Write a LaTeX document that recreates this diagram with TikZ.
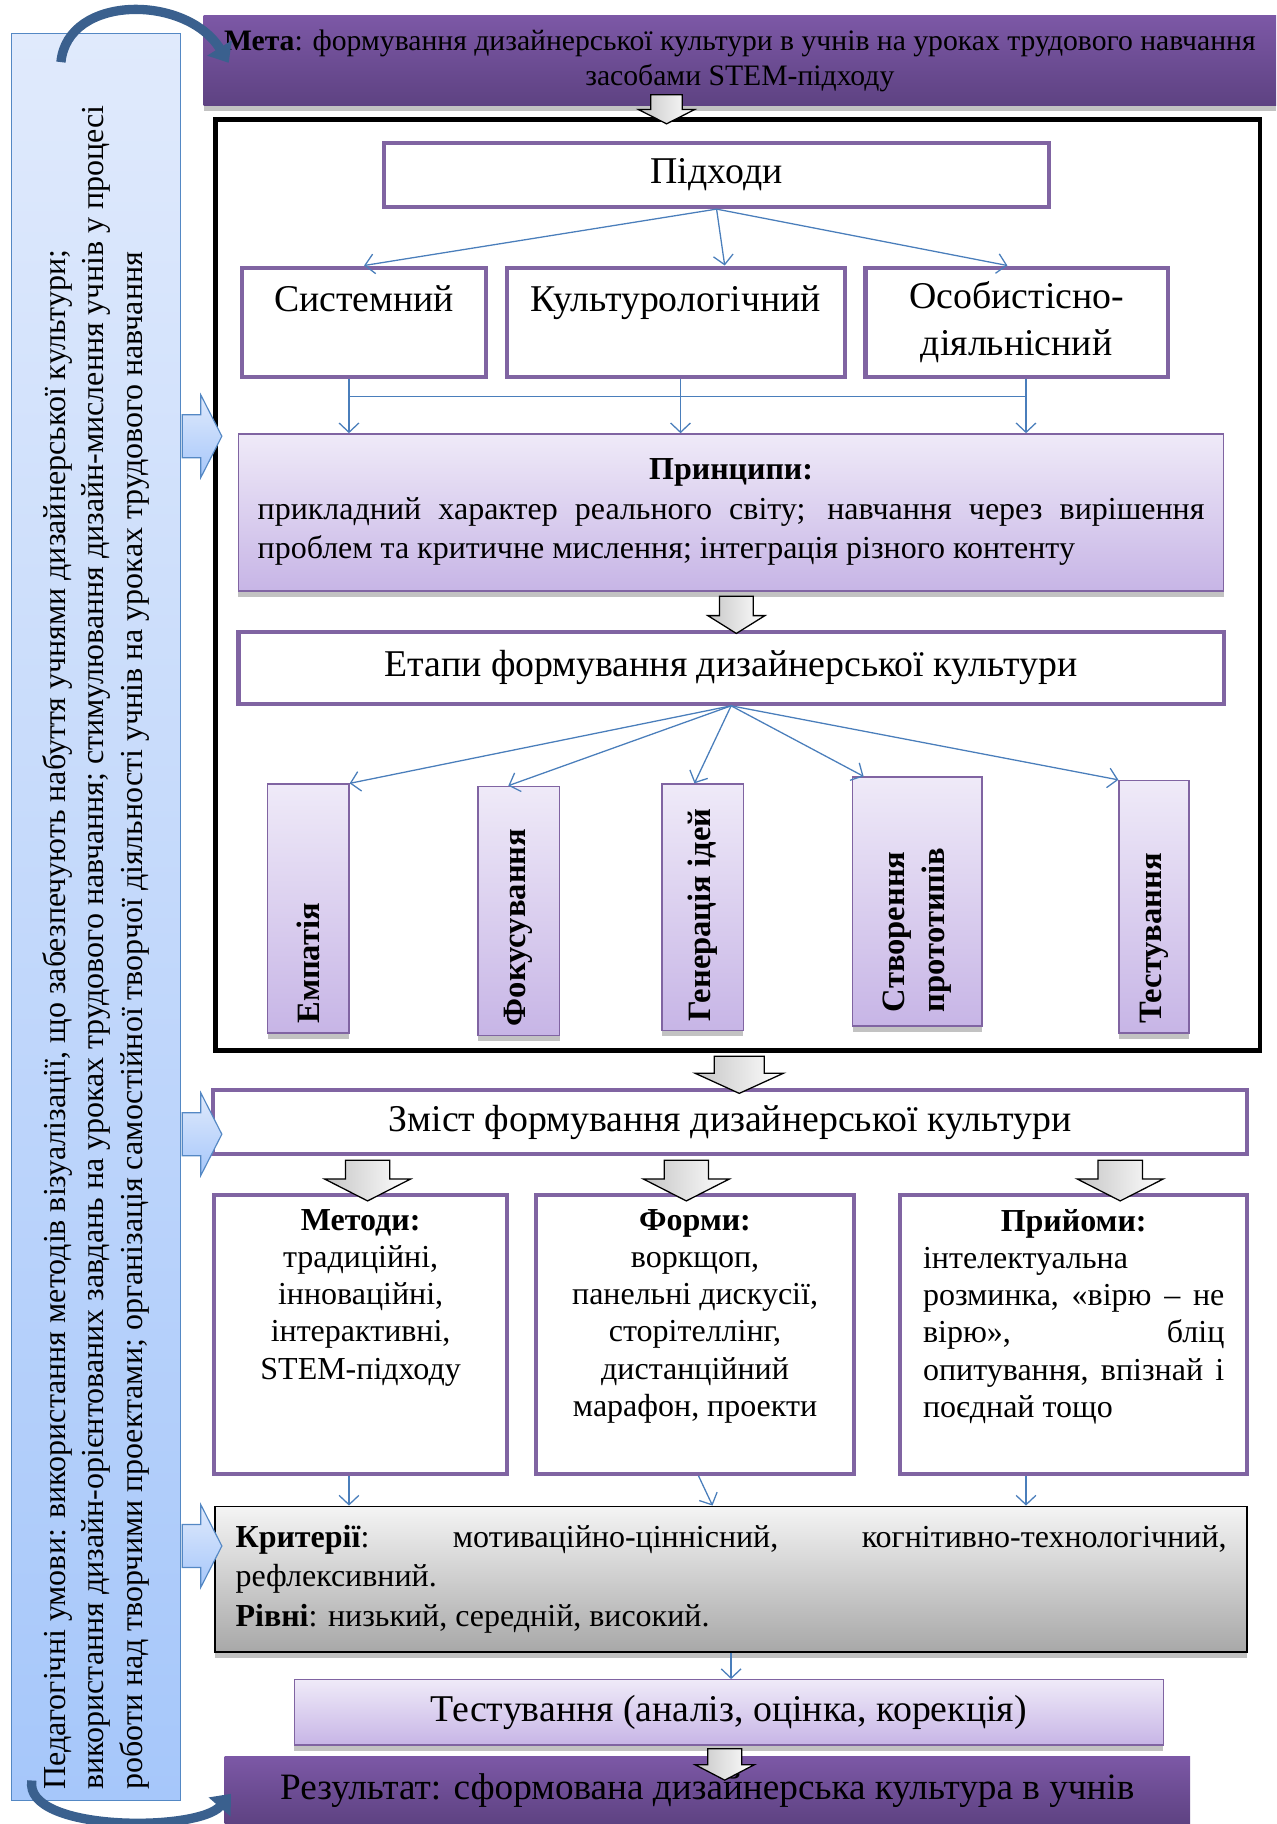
\documentclass[tikz,border=0pt]{standalone}
\usepackage{fontspec}
\setmainfont{Liberation Serif}
\usepackage{tikz}
\usetikzlibrary{shapes,arrows,arrows.meta,positioning,calc,shadows}

\definecolor{boxpurple}{RGB}{128,100,162}
\definecolor{metatop}{RGB}{124,88,166}
\definecolor{metabot}{RGB}{94,66,130}
\definecolor{lavtop}{RGB}{239,234,248}
\definecolor{lavbot}{RGB}{199,181,230}
\definecolor{condtop}{RGB}{224,234,252}
\definecolor{condbot}{RGB}{166,199,250}
\definecolor{condline}{RGB}{84,136,196}
\definecolor{linkblue}{RGB}{74,126,187}
\definecolor{curveblue}{RGB}{58,96,142}
\definecolor{crittop}{RGB}{244,244,244}
\definecolor{critbot}{RGB}{168,168,168}

\newcommand{\vlabel}[2]{\rotatebox{90}{\parbox{#1}{\raggedright #2}}}
\newcommand{\topbox}[3]{\parbox[t][#2][t]{#1}{#3}}

\begin{document}
\begin{tikzpicture}[x=1pt, y=-1pt, thick,
        box/.style={draw=boxpurple, line width=3.5pt, fill=white, inner sep=0pt, align=center},
        shadowed/.style={drop shadow={shadow xshift=0pt, shadow yshift=-5pt, fill=black!40, opacity=.6}},
        lavbox/.style={draw=boxpurple, line width=1.2pt, top color=lavtop, bottom color=lavbot, inner sep=0pt, shadowed},
        purplebox/.style={top color=metatop, bottom color=metabot, inner sep=0pt, align=center, shadowed},
        conn/.style={draw=linkblue, line width=1.1pt, -{Straight Barb[length=8pt, width=17pt]}},
        blockarrow/.style={single arrow, draw=black, line width=1.1pt, inner xsep=0pt, rotate=-90,
            left color=gray!45, right color=white},
        sidearrow/.style={single arrow, draw=condline, line width=1pt, inner xsep=0pt, inner ysep=18pt,
            top color=condtop, bottom color=condbot, minimum height=34pt, minimum width=70pt,
            single arrow head extend=17pt, single arrow tip angle=126},
        curvearrow/.style={draw=curveblue, line width=8pt, -{Triangle[length=15pt, width=24pt]}},
        stage/.style={lavbox, font=\fontsize{28}{35}\selectfont\bfseries}]
        \useasboundingbox (0,0) rectangle (1097,1568);

        % Conditions column
        \node[draw=condline, line width=1.2pt, top color=condtop, bottom color=condbot, inner sep=0pt,
            minimum width=145pt, minimum height=1519pt, font=\fontsize{27.5}{33}\selectfont] (cond) at (82.5,788.5)
            {\vlabel{1500pt}{Педагогічні умови: використання методів візуалізації, що забезпечують набуття учнями дизайнерської культури;\\
            використання дизайн-орієнтованих завдань на уроках трудового навчання; стимулювання дизайн-мислення учнів у процесі\\
            роботи над творчими проектами; організація самостійної творчої діяльності учнів на уроках трудового навчання}};

        % Goal
        \node[purplebox, minimum width=922pt, minimum height=77pt, font=\fontsize{25.5}{30}\selectfont] (meta) at (636,52)
            {\textbf{Мета}: формування дизайнерської культури в учнів на уроках трудового навчання\\засобами STEM-підходу};

        % Frame with approaches, principles and stages
        \node[draw, line width=4pt, minimum width=898pt, minimum height=800pt, inner sep=0pt] (frame) at (634,503) {};

        \node[box, minimum width=572pt, minimum height=55pt, font=\fontsize{32.5}{40}\selectfont] (pidhody) at (616,150.5) {Підходи};
        \node[box, minimum width=210pt, minimum height=94pt, font=\fontsize{32.5}{40}\selectfont] (syst) at (313,277) {Системний\\~};
        \node[box, minimum width=291pt, minimum height=94pt, font=\fontsize{32.5}{40}\selectfont, right=14pt of syst] (kult) {Культурологічний\\~};
        \node[box, minimum width=260pt, minimum height=94pt, font=\fontsize{32.5}{40}\selectfont, right=14pt of kult] (osob) {Особистісно-\\діяльнісний};

        \node[lavbox, minimum width=847pt, minimum height=135pt, font=\fontsize{27.5}{34}\selectfont] (princ) at (628.5,440.5)
            {\parbox{814pt}{\centering\textbf{Принципи:}\par\leftskip=0pt\rightskip=0pt\parfillskip=0pt plus 1fil
            прикладний характер реального світу; навчання через вирішення\linebreak проблем та критичне мислення; інтеграція різного контенту}};

        \node[box, minimum width=847pt, minimum height=62pt, font=\fontsize{32.5}{40}\selectfont] (etapy) at (628.5,574) {Етапи формування дизайнерської культури};

        \node[stage, minimum width=70pt, minimum height=214pt] (emp) at (265,781) {\vlabel{198pt}{Емпатія}};
        \node[stage, minimum width=70pt, minimum height=214pt] (fok) at (446,783) {\vlabel{198pt}{Фокусування}};
        \node[stage, minimum width=70pt, minimum height=212pt] (gen) at (604,780) {\vlabel{196pt}{Генерація ідей}};
        \node[stage, minimum width=111pt, minimum height=214pt] (stv) at (788.5,775) {\vlabel{190pt}{Створення\\прототипів}};
        \node[stage, minimum width=60pt, minimum height=217pt] (tst) at (992,779.5) {\vlabel{201pt}{Тестування}};

        % Content and the three boxes
        \node[box, minimum width=889pt, minimum height=55pt, font=\fontsize{32.5}{40}\selectfont] (zmist) at (627.5,964.5) {Зміст формування дизайнерської культури};

        \node[box, minimum width=252pt, minimum height=240pt, font=\fontsize{27.5}{32}\selectfont] (metody) at (310,1147)
            {\topbox{236pt}{215pt}{\centering\textbf{Методи:}\\традиційні,\\інноваційні,\\інтерактивні,\\STEM-підходу}};
        \node[box, minimum width=273pt, minimum height=240pt, font=\fontsize{27.5}{32}\selectfont] (formy) at (597.5,1147)
            {\topbox{258pt}{215pt}{\centering\textbf{Форми:}\\воркщоп,\\панельні дискусії,\\сторітеллінг,\\дистанційний\\марафон, проекти}};
        \node[box, minimum width=298pt, minimum height=240pt, font=\fontsize{27.5}{32}\selectfont] (pryiomy) at (923,1147)
            {\topbox{259pt}{215pt}{\centering\textbf{Прийоми:}\par\raggedright інтелектуальна\\розминка,\hfill«вірю\hfill–\hfill не\\вірю»,\hfill бліц\\опитування,\hfill впізнай\hfill і\\поєднай тощо}};

        \node[draw=black, line width=1.5pt, top color=crittop, bottom color=critbot, shadowed, minimum width=887pt, minimum height=125pt,
            text width=852pt, align=justify, font=\fontsize{27.5}{34}\selectfont] (krit) at (628.5,1357.5)
            {\textbf{Критерії}:\hfill мотиваційно-ціннісний,\hfill когнітивно-технологічний,\linebreak рефлексивний.\\\textbf{Рівні}: низький, середній, високий.};

        \node[lavbox, minimum width=747pt, minimum height=56pt, font=\fontsize{32.5}{40}\selectfont] (testuv) at (626.5,1472) {Тестування (аналіз, оцінка, корекція)};
        \node[purplebox, minimum width=830pt, minimum height=58pt, font=\fontsize{32}{40}\selectfont] (rez) at (608,1539) {Результат: сформована дизайнерська культура в учнів};

        % Block arrows
        \node[blockarrow, minimum height=25pt, minimum width=47pt, inner ysep=13pt, single arrow head extend=10.5pt, single arrow tip angle=126] (a1) at (573,90.5) {};
        \node[blockarrow, minimum height=32pt, minimum width=48pt, inner ysep=14pt, single arrow head extend=10pt, single arrow tip angle=116] (a2) at (633,524) {};
        \node[blockarrow, minimum height=32pt, minimum width=75pt, inner ysep=21pt, single arrow head extend=16.5pt, single arrow tip angle=131] (a3) at (635.5,919) {};
        \node[blockarrow, minimum height=35pt, minimum width=73pt, inner ysep=18.5pt, single arrow head extend=18pt, single arrow tip angle=126] (a4) at (316,1010) {};
        \node[blockarrow, minimum height=35pt, minimum width=73pt, inner ysep=18.5pt, single arrow head extend=18pt, single arrow tip angle=126] (a5) at (590,1010) {};
        \node[blockarrow, minimum height=35pt, minimum width=73pt, inner ysep=18.5pt, single arrow head extend=18pt, single arrow tip angle=126] (a6) at (963,1010) {};
        \node[blockarrow, minimum height=27pt, minimum width=50pt, inner ysep=14pt, single arrow head extend=11pt, single arrow tip angle=125] (a7) at (623,1513) {};

        \node[sidearrow] (s1) at (169,375) {};
        \node[sidearrow] (s2) at (169,975) {};
        \node[sidearrow] (s3) at (169,1329) {};

        % Edges
        \draw[conn] (pidhody.south) -- (syst.north);
        \draw[conn] (pidhody.south) -- ($(kult.north)+(42,0)$);
        \draw[conn] (pidhody.south) -- ($(osob.north)+(-8,0)$);

        \draw[linkblue, line width=1.1pt] (300,341) -- (882,341);
        \draw[conn] (300,0 |- syst.south) -- (300,0 |- princ.north);
        \draw[conn] (585,0 |- kult.south) -- (585,0 |- princ.north);
        \draw[conn] (882,0 |- osob.south) -- (882,0 |- princ.north);

        \draw[conn] (etapy.south) -- (emp.north east);
        \draw[conn] (etapy.south) -- ($(fok.north)+(-9,0)$);
        \draw[conn] (etapy.south) -- ($(gen.north)+(-7,0)$);
        \draw[conn] (etapy.south) -- ($(stv.north west)+(10,0)$);
        \draw[conn] (etapy.south) -- (tst.north west);

        \draw[conn] (300,0 |- metody.south) -- (300,0 |- krit.north);
        \draw[conn] ($(formy.south)+(3,0)$) -- ($(krit.north -| formy.south)+(15,0)$);
        \draw[conn] (882,0 |- pryiomy.south) -- (882,0 |- krit.north);
        \draw[conn] (krit.south) -- (krit.south |- testuv.north);

        \draw[curvearrow] ($(cond.north west)+(43,25)$) .. controls (58,-5) and (160,-5) .. ($(meta.west)+(22,2)$);
        \draw[curvearrow] ($(cond.south west)+(18,-18)$) .. controls (20,1575) and (170,1575) .. ($(rez.west)+(6,3)$);
    \end{tikzpicture}
\end{document}
